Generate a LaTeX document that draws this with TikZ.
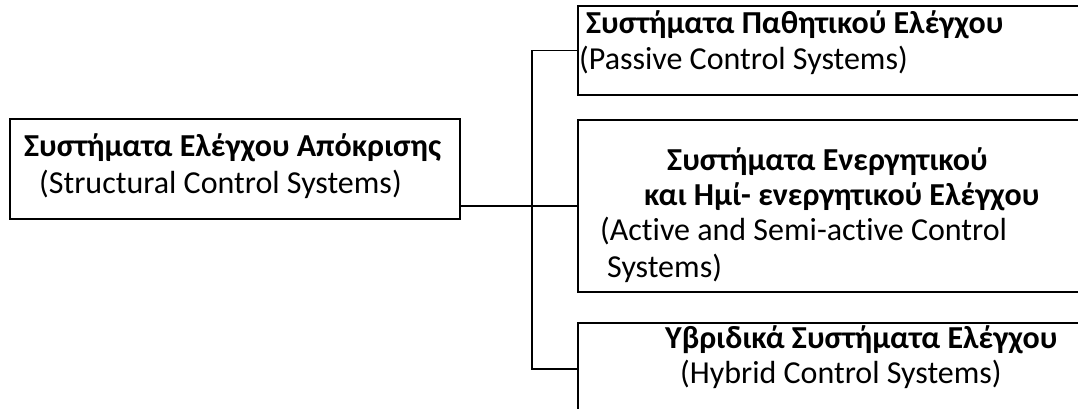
\documentclass[tikz,border=0pt]{standalone}
\usepackage{fontspec}
\setmainfont{Carlito}[Ligatures={NoCommon}]
\usepackage{tikz}
\usetikzlibrary{positioning,calc}

\begin{document}
\begin{tikzpicture}[x=1pt, y=-1pt]

  % ===== Styles =====
  \tikzset{
    box/.style={draw, line width=1.8pt, inner sep=0pt},
    link/.style={line width=1.8pt},
    head/.style={font=\fontsize{32}{38}\selectfont\bfseries, inner sep=0pt, anchor=base west},
    sub/.style={font=\fontsize{32}{38}\selectfont, inner sep=0pt, anchor=base west}
  }

  % ===== Frame (boxes on the right run off the page) =====
  \useasboundingbox (0,0) rectangle (1078,409);
  \clip (0,0) rectangle (1078,409);

  % ===== Boxes =====
  \node[box, minimum width=450pt, minimum height=100pt] (Root) at (235,169) {};
  \node[box, minimum width=530pt, minimum height=89pt] (Pas) at (843,50.5) {};
  \node[box, minimum width=530pt, minimum height=172pt] (Act) at (843,206) {};
  \node[box, minimum width=530pt, minimum height=92pt] (Hyb) at (843,369) {};

  % ===== Texts =====
  \node[head] (RootA) at (24,157) {Συστήματα Ελέγχου Απόκρισης};
  \node[sub] (RootB) at (39,193) {(Structural Control Systems)};

  \node[head] (PasA) at (586,34) {Συστήματα Παθητικού Ελέγχου};
  \node[sub] (PasB) at (579,70) {(Passive Control Systems)};

  \node[head] (ActA) at (667,170) {Συστήματα Ενεργητικού};
  \node[head] (ActB) at (644,205) {και Ημί- ενεργητικού Ελέγχου};
  \node[sub] (ActC) at (600,240) {(Active and Semi-active Control};
  \node[sub] (ActD) at (607,277) {Systems)};

  \node[head] (HybA) at (665,348) {Υβριδικά Συστήματα Ελέγχου};
  \node[sub] (HybB) at (680,383) {(Hybrid Control Systems)};

  % ===== Connections =====
  \coordinate (Spine) at (532,0);
  \draw[link] (Pas.west) -| (Spine |- Hyb.west) -- (Hyb.west);
  \draw[link] (Root.east |- Act.west) -- (Act.west);

\end{tikzpicture}
\end{document}
